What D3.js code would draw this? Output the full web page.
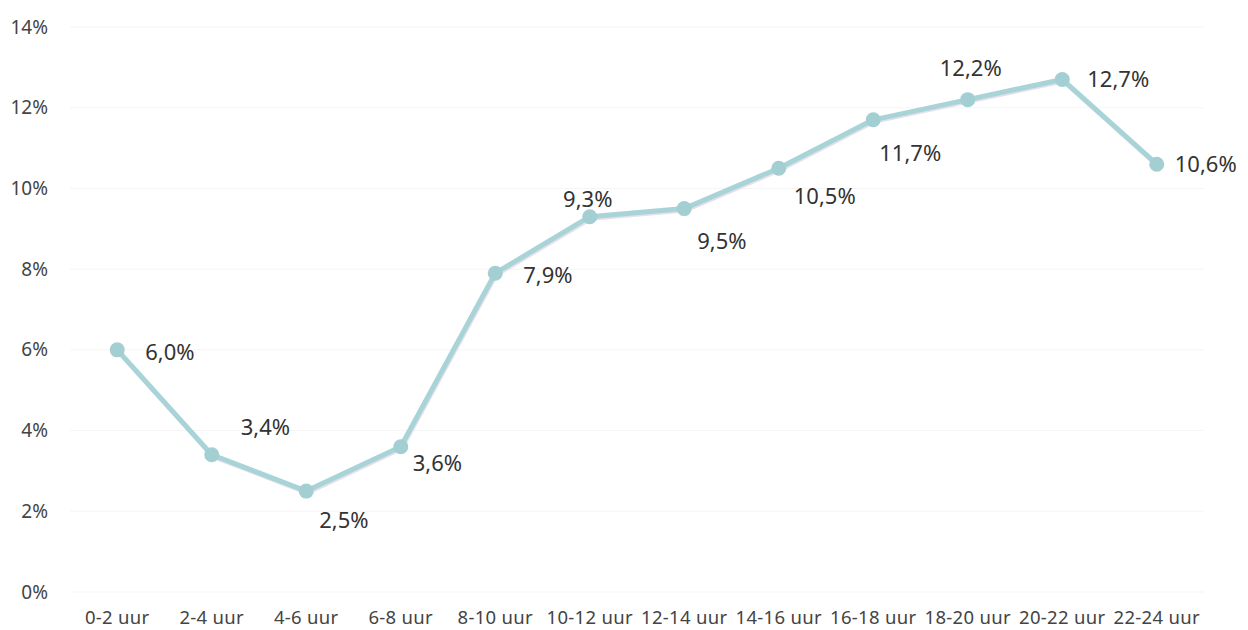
<!DOCTYPE html>
<html>
<head>
<meta charset="utf-8">
<script src="https://cdn.jsdelivr.net/npm/d3@7"></script>
<style>
  body { margin: 0; background: #fff; }
  text { font-family: "Noto Sans", sans-serif; }
</style>
</head>
<body>
<div id="chart"></div>
<script>
// data
const categories = ["0-2 uur", "2-4 uur", "4-6 uur", "6-8 uur", "8-10 uur", "10-12 uur",
    "12-14 uur", "14-16 uur", "16-18 uur", "18-20 uur", "20-22 uur", "22-24 uur"];
const values = [6.0, 3.4, 2.5, 3.6, 7.9, 9.3, 9.5, 10.5, 11.7, 12.2, 12.7, 10.6];
const yTicks = [0, 2, 4, 6, 8, 10, 12, 14];
// label nudges relative to each point [dx, dy, anchor]
const labelOffsets = [
    [28, 2, "start"], [29, -27, "start"], [13, 29, "start"], [12, 17, "start"],
    [28, 2, "start"], [-2, -17, "middle"], [13, 33, "start"], [15, 28, "start"],
    [6, 33, "start"], [3, -31, "middle"], [25, 0, "start"], [18, 0, "start"]
];

const width = 1248, height = 630;
const margin = {top: 27, right: 44, bottom: 38, left: 70};

const svg = d3.select("#chart")
    .append("svg")
    .attr("width", width)
    .attr("height", height);

const x = d3.scaleBand()
    .domain(categories)
    .range([margin.left, width - margin.right]);

const y = d3.scaleLinear()
    .domain([0, 14])
    .range([height - margin.bottom, margin.top]);

// faint gridlines
svg.append("g")
    .selectAll("line")
    .data(yTicks)
    .enter().append("line")
    .attr("x1", margin.left)
    .attr("x2", width - margin.right)
    .attr("y1", d => y(d))
    .attr("y2", d => y(d))
    .attr("stroke", "#f5f5f5")
    .attr("stroke-width", 1);

// y axis labels
const yAxis = svg.append("g")
    .attr("transform", `translate(${margin.left - 22},0)`)
    .call(d3.axisLeft(y).tickValues(yTicks).tickSize(0).tickPadding(0).tickFormat(d => d + "%"));
yAxis.select(".domain").remove();
yAxis.selectAll("text")
    .attr("font-size", 19)
    .attr("fill", "#444")
    .attr("text-anchor", "end");

// x axis labels
const xAxis = svg.append("g")
    .attr("transform", `translate(0,${height - margin.bottom})`)
    .call(d3.axisBottom(x).tickSize(0).tickPadding(19));
xAxis.select(".domain").remove();
xAxis.selectAll("text")
    .attr("font-size", 18.5)
    .attr("letter-spacing", 0.3)
    .attr("fill", "#444");

const cx = d => x(d.cat) + x.bandwidth() / 2;
const points = categories.map((c, i) => ({cat: c, value: values[i], off: labelOffsets[i]}));

const line = d3.line()
    .x(cx)
    .y(d => y(d.value));

// soft shadow under the line
svg.append("path")
    .datum(points)
    .attr("d", line)
    .attr("transform", "translate(1,2)")
    .attr("fill", "none")
    .attr("stroke", "#e6dfec")
    .attr("stroke-width", 4)
    .attr("stroke-linejoin", "round");

svg.append("path")
    .datum(points)
    .attr("d", line)
    .attr("fill", "none")
    .attr("stroke", "#a8d4d7")
    .attr("stroke-width", 5)
    .attr("stroke-linejoin", "round");

svg.selectAll(".dot")
    .data(points)
    .enter().append("circle")
    .attr("class", "dot")
    .attr("cx", cx)
    .attr("cy", d => y(d.value))
    .attr("r", 7.5)
    .attr("fill", "#a3cfd3");

// value labels
svg.selectAll(".val")
    .data(points)
    .enter().append("text")
    .attr("class", "val")
    .attr("x", d => cx(d) + d.off[0])
    .attr("y", d => y(d.value) + d.off[1])
    .attr("dy", "0.35em")
    .attr("text-anchor", d => d.off[2])
    .attr("font-size", 22)
    .attr("fill", "#333")
    .text(d => d.value.toFixed(1).replace(".", ",") + "%");
</script>
</body>
</html>
